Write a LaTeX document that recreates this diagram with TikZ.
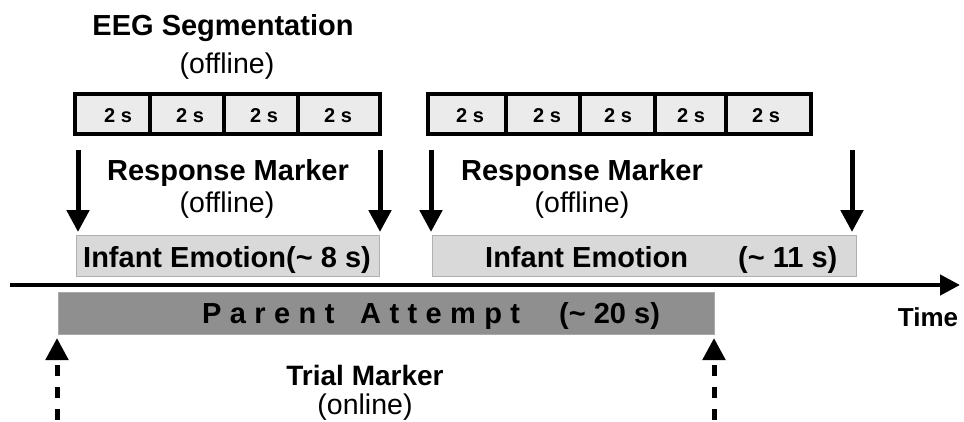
\documentclass[tikz,border=0pt]{standalone}
\usepackage{fontspec}
\setmainfont{Liberation Sans}
\usetikzlibrary{arrows.meta}
\definecolor{cellgray}{HTML}{EBEBEB}
\definecolor{emofill}{HTML}{D9D9D9}
\definecolor{emoborder}{HTML}{B0B0B0}
\definecolor{parentfill}{HTML}{8F8F8F}
\definecolor{parentborder}{HTML}{A8A8A8}
\newcommand\spc{\hspace{8.4pt}}
\begin{document}
\begin{tikzpicture}[x=1pt,y=-1pt,
  bigbold/.style={font=\bfseries\fontsize{29}{34}\selectfont, anchor=base, inner sep=0pt},
  bigreg/.style={font=\fontsize{28.5}{34}\selectfont, anchor=base, inner sep=0pt},
  seglabel/.style={font=\bfseries\fontsize{20}{24}\selectfont, anchor=base, inner sep=0pt},
  cell/.style={draw, line width=3.5pt, fill=cellgray, minimum height=40pt, inner sep=0pt, outer sep=0pt},
  emobox/.style={draw=emoborder, line width=0.8pt, fill=emofill, minimum height=41pt, inner sep=0pt},
  parentbox/.style={draw=parentborder, line width=0.8pt, fill=parentfill, minimum height=42pt, minimum width=656pt, inner sep=0pt},
  downarrow/.style={line width=5pt, -{Triangle[width=22pt,length=22pt]}},
  axisarrow/.style={line width=4.5pt, -{Triangle[width=20pt,length=20pt]}},
  dasharrow/.style={line width=5pt, dash pattern=on 11pt off 11pt, -{Triangle[width=22pt,length=22pt]}}
]
\useasboundingbox (0,0) rectangle (964,421);

% titles
\node[bigbold] (eegt) at (223,35) {EEG Segmentation};
\node[bigreg] (eego) at (227,73) {(offline)};

% left segmentation
\node[cell, minimum width=75pt] (L1) at (112.5,114) {};
\node[cell, minimum width=74pt] (L2) at (187,114) {};
\node[cell, minimum width=74pt] (L3) at (261,114) {};
\node[cell, minimum width=82pt] (L4) at (339,114) {};
\node[seglabel] (L1t) at (118,122) {2 s};
\node[seglabel] (L2t) at (190,122) {2 s};
\node[seglabel] (L3t) at (264,122) {2 s};
\node[seglabel] (L4t) at (338,122) {2 s};

% right segmentation
\node[cell, minimum width=78pt] (R1) at (467,114) {};
\node[cell, minimum width=74pt] (R2) at (543,114) {};
\node[cell, minimum width=75pt] (R3) at (617.5,114) {};
\node[cell, minimum width=71pt] (R4) at (690.5,114) {};
\node[cell, minimum width=85pt] (R5) at (768.5,114) {};
\node[seglabel] (R1t) at (470,122) {2 s};
\node[seglabel] (R2t) at (547,122) {2 s};
\node[seglabel] (R3t) at (618,122) {2 s};
\node[seglabel] (R4t) at (691,122) {2 s};
\node[seglabel] (R5t) at (766,122) {2 s};

% response markers
\node[bigbold] (rm1) at (228,180) {Response Marker};
\node[bigreg] (rm1o) at (227,212) {(offline)};
\node[bigbold] (rm2) at (582,180) {Response Marker};
\node[bigreg] (rm2o) at (582,212) {(offline)};

% infant emotion boxes
\node[emobox, minimum width=303pt] (emo1) at (227.5,255.5) {};
\node[emobox, minimum width=424pt] (emo2) at (644,255.5) {};
\node[bigbold, anchor=base west] (emo1t) at (83,267) {Infant Emotion(\textasciitilde\ 8 s)};
\node[bigbold, anchor=base west] (emo2t) at (485,267) {Infant Emotion};
\node[bigbold, anchor=base west] (emo2d) at (738,267) {(\textasciitilde\ 11 s)};

% response marker arrows
\coordinate (a1s) at (78,150);  \coordinate (a1e) at (78,232);
\coordinate (a2s) at (380,150); \coordinate (a2e) at (380,232);
\coordinate (a3s) at (431,150); \coordinate (a3e) at (431,232);
\coordinate (a4s) at (852,150); \coordinate (a4e) at (852,232);
\draw[downarrow] (a1s) -- (a1e);
\draw[downarrow] (a2s) -- (a2e);
\draw[downarrow] (a3s) -- (a3e);
\draw[downarrow] (a4s) -- (a4e);

% time axis
\coordinate (ax0) at (10,285);
\coordinate (ax1) at (960,285);
\draw[axisarrow] (ax0) -- (ax1);
\node[bigbold, font=\bfseries\fontsize{26}{30}\selectfont] (time) at (928,326) {Time};

% parent attempt
\node[parentbox] (parent) at (386,313) {};
\node[bigbold, anchor=base west] (pa1) at (202,323) {P\spc a\spc r\spc e\spc n\spc t};
\node[bigbold, anchor=base west] (pa2) at (360,323) {A\spc t\spc t\spc e\spc m\spc p\spc t};
\node[bigbold, anchor=base west] (pa3) at (559,323) {(\textasciitilde\ 20 s)};

% trial markers
\coordinate (t1s) at (57,420); \coordinate (t1e) at (57,338);
\coordinate (t2s) at (714,420); \coordinate (t2e) at (714,338);
\draw[dasharrow] (t1s) -- (t1e);
\draw[dasharrow] (t2s) -- (t2e);
\node[bigbold, font=\bfseries\fontsize{28}{32}\selectfont] (tm) at (365,385) {Trial Marker};
\node[bigreg] (tmo) at (365,414) {(online)};
\end{tikzpicture}
\end{document}
